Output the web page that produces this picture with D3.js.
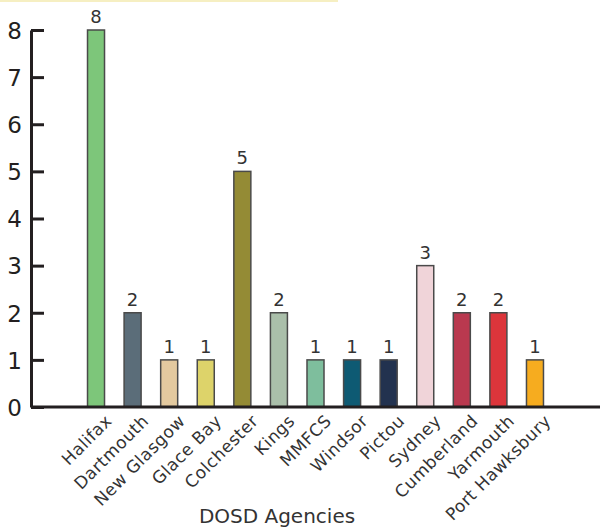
<!DOCTYPE html>
<html>
<head>
<meta charset="utf-8">
<script src="https://cdn.jsdelivr.net/npm/d3@7"></script>
<style>
  body { margin: 0; background: #fff; }
  svg { display: block; font-family: "DejaVu Sans", sans-serif; }
</style>
</head>
<body>
<svg id="chart" width="600" height="527"></svg>
<script>
// data
const agencies = ["Halifax","Dartmouth","New Glasgow","Glace Bay","Colchester","Kings","MMFCS","Windsor","Pictou","Sydney","Cumberland","Yarmouth","Port Hawksbury"];
const counts = [8,2,1,1,5,2,1,1,1,3,2,2,1];
const colours = ["#7dc67a","#5b6d79","#e3c99f","#ddd36a","#948b35","#aabfaa","#7ebe9d","#0e5a73","#22324f","#f0d4d9","#b9394f","#dc353b","#f6ac1f"];
const yTicks = [0,1,2,3,4,5,6,7,8];

const svg = d3.select("#chart");

// thin yellow strip at the very top
svg.append("rect").attr("x",0).attr("y",0).attr("width",338).attr("height",2).attr("fill","#f6efc2");

const x = d3.scaleBand().domain(agencies).range([31,600]).paddingInner(0.535).paddingOuter(1.545);
const y = d3.scaleLinear().domain([0,8]).range([407,30]);

// y axis
const yAxis = svg.append("g").attr("transform","translate(31,0)")
  .call(d3.axisRight(y).tickValues(yTicks).tickSize(13).tickSizeOuter(0).tickFormat(d3.format("d")));
yAxis.select(".domain").attr("stroke","#231f20").attr("stroke-width",3);
yAxis.selectAll(".tick line").attr("stroke","#231f20").attr("stroke-width",3);
yAxis.selectAll(".tick text").attr("x",-9).attr("dy","0.36em").attr("text-anchor","end").attr("font-size",23).attr("fill","#231f20").attr("font-family","DejaVu Sans");

// bars
svg.selectAll("rect.bar").data(agencies).join("rect").attr("class","bar")
  .attr("x",d => x(d)).attr("width",x.bandwidth())
  .attr("y",(d,i) => y(counts[i])).attr("height",(d,i) => y(0)-y(counts[i]))
  .attr("fill",(d,i) => colours[i]).attr("stroke","#4a4a4a").attr("stroke-width",1.5);

// value labels
svg.selectAll("text.val").data(agencies).join("text").attr("class","val")
  .attr("x",d => x(d)+x.bandwidth()/2).attr("y",(d,i) => y(counts[i])-7)
  .attr("text-anchor","middle").attr("font-size",18).attr("fill","#333")
  .text((d,i) => counts[i]);

// x axis line
svg.append("line").attr("x1",31).attr("x2",600).attr("y1",y(0)).attr("y2",y(0))
  .attr("stroke","#231f20").attr("stroke-width",3);

// x labels
svg.selectAll("text.cat").data(agencies).join("text").attr("class","cat")
  .attr("transform",d => "translate(" + (x(d)+x.bandwidth()/2+8) + "," + (y(0)+6) + ") rotate(-45)")
  .attr("text-anchor","end").attr("dominant-baseline","hanging").attr("font-size",17)
  .attr("letter-spacing",0.5).attr("fill","#333")
  .text(d => d);

// axis title
svg.append("text").attr("x",277).attr("y",523).attr("text-anchor","middle")
  .attr("font-size",20).attr("fill","#333").text("DOSD Agencies");
</script>
</body>
</html>
